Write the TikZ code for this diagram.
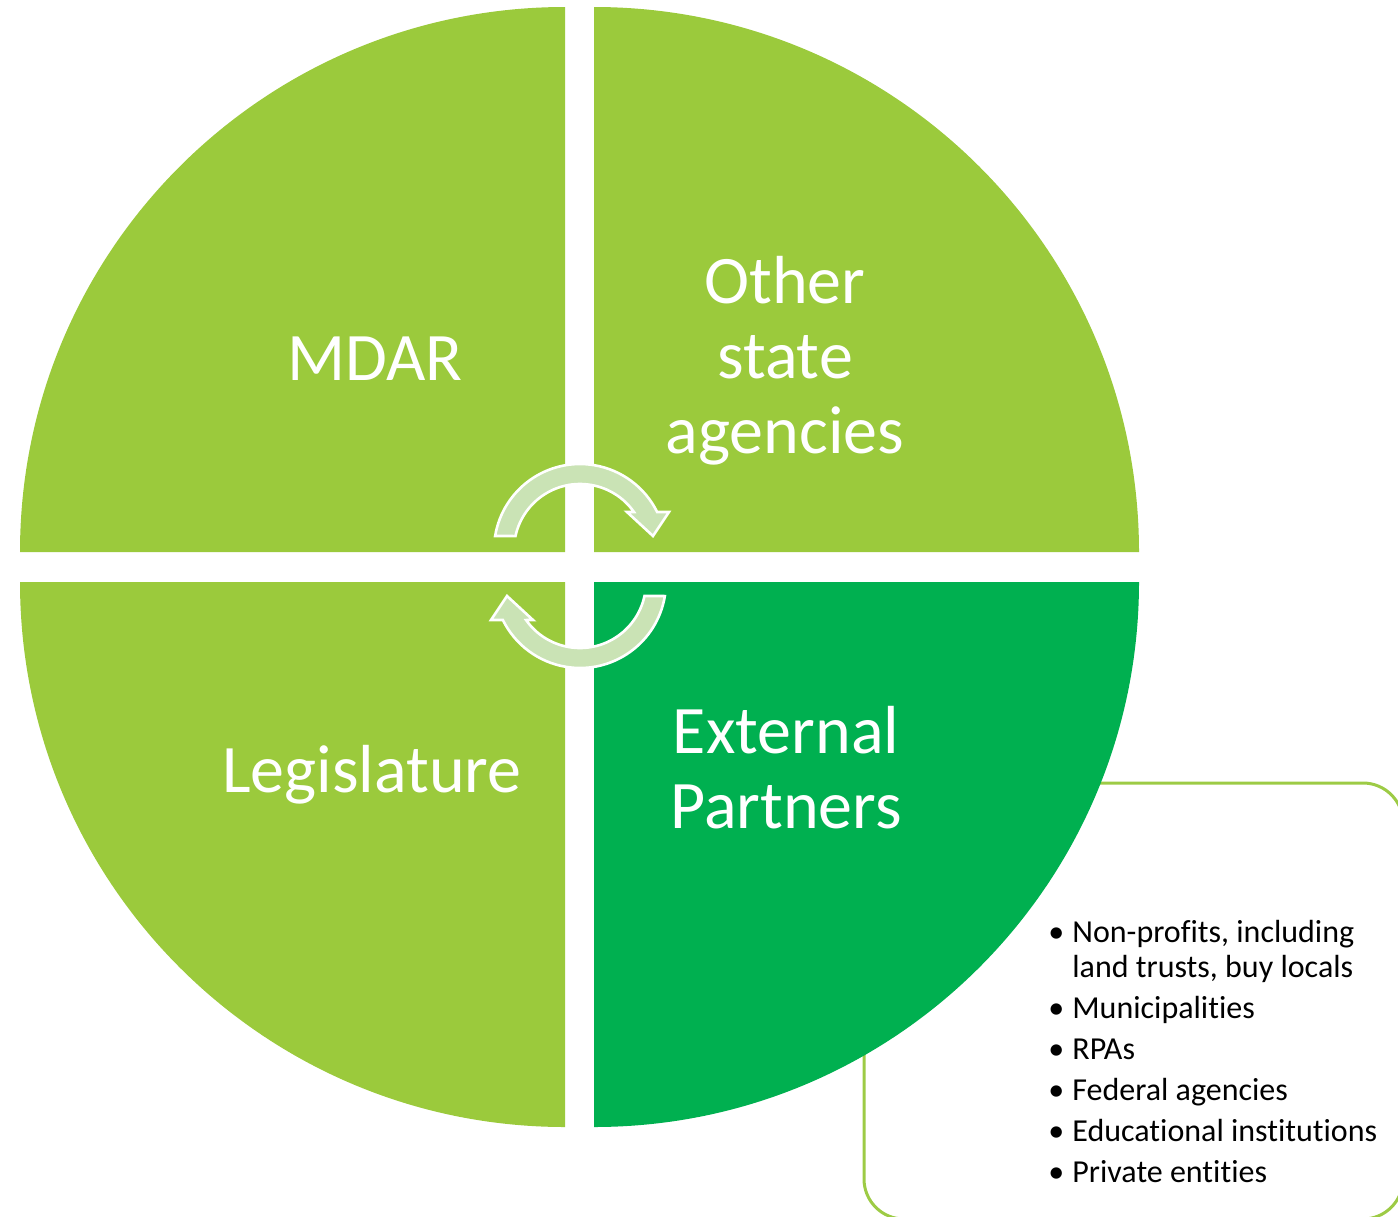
\documentclass[tikz,border=0pt]{standalone}
\usepackage{fontspec}
\setmainfont{Carlito}[Ligatures={TeX,NoCommon}]
\definecolor{leafgreen}{HTML}{9BCA3C}
\definecolor{deepgreen}{HTML}{00B050}
\definecolor{arrowgreen}{HTML}{CAE3B5}
\definecolor{boxgreen}{HTML}{9DCB45}
\newcommand{\listbullet}{\makebox[12pt][l]{\textbullet}}
\begin{document}
\begin{tikzpicture}[x=0.5pt,y=-0.5pt]
\tikzstyle{label node}=[text=white,font=\fontsize{34}{37.5}\selectfont,align=center,inner sep=0,anchor=base]
\tikzstyle{list node}=[font=\fontsize{16}{17.5}\selectfont,align=left,inner sep=0,anchor=base west]
\tikzset{
	light quarter/.style={fill=leafgreen},
	dark quarter/.style={fill=deepgreen},
	turn arrow/.style={fill=arrowgreen,draw=white,line width=1.3pt,line join=miter}
}
\useasboundingbox (0,0) rectangle (1398,1216);
% box behind the circle, runs off the page at the right and bottom
\draw[boxgreen,line width=1.5pt,rounded corners=20pt] (864,783) rectangle (1403,1219);
% the four quarters
\fill[light quarter] (565,552) -- (20,552) arc[start angle=180,end angle=270,radius=545] -- cycle;
\fill[light quarter] (594,552) -- (594,7) arc[start angle=270,end angle=360,radius=545] -- cycle;
\fill[dark quarter] (594,582) -- (1139,582) arc[start angle=0,end angle=90,radius=545] -- cycle;
\fill[light quarter] (565,582) -- (565,1127) arc[start angle=90,end angle=180,radius=545] -- cycle;
% circular arrows
\path[turn arrow] (580,550) ++(189.4:86) arc[start angle=189.4,end angle=333.8,radius=86]
	-- (669,512) -- (653,536) -- (627,512)
	-- ([shift={(580,550)}]324.8:66) arc[start angle=324.8,end angle=192.2,radius=66] -- cycle;
\begin{scope}[rotate around={180:(580,566)}]
\path[turn arrow] (580,550) ++(189.4:86) arc[start angle=189.4,end angle=333.8,radius=86]
	-- (669,512) -- (653,536) -- (627,512)
	-- ([shift={(580,550)}]324.8:66) arc[start angle=324.8,end angle=192.2,radius=66] -- cycle;
\end{scope}
% labels (base = last line)
\node[label node] (mdar) at (375,380) {MDAR};
\node[label node] (others) at (785,453) {Other\\state\\agencies};
\node[label node] (legis) at (372,792) {Legislature};
\node[label node] (external) at (786,828) {External\\Partners};
\node[list node] (partners) at (1048,1182) {\listbullet Non-profits, including\\
	\hspace*{12pt}land trusts, buy locals\\[3pt]
	\listbullet Municipalities\\[3pt]
	\listbullet RPAs\\[3pt]
	\listbullet Federal agencies\\[3pt]
	\listbullet Educational institutions\\[3pt]
	\listbullet Private entities};
\end{tikzpicture}
\end{document}
